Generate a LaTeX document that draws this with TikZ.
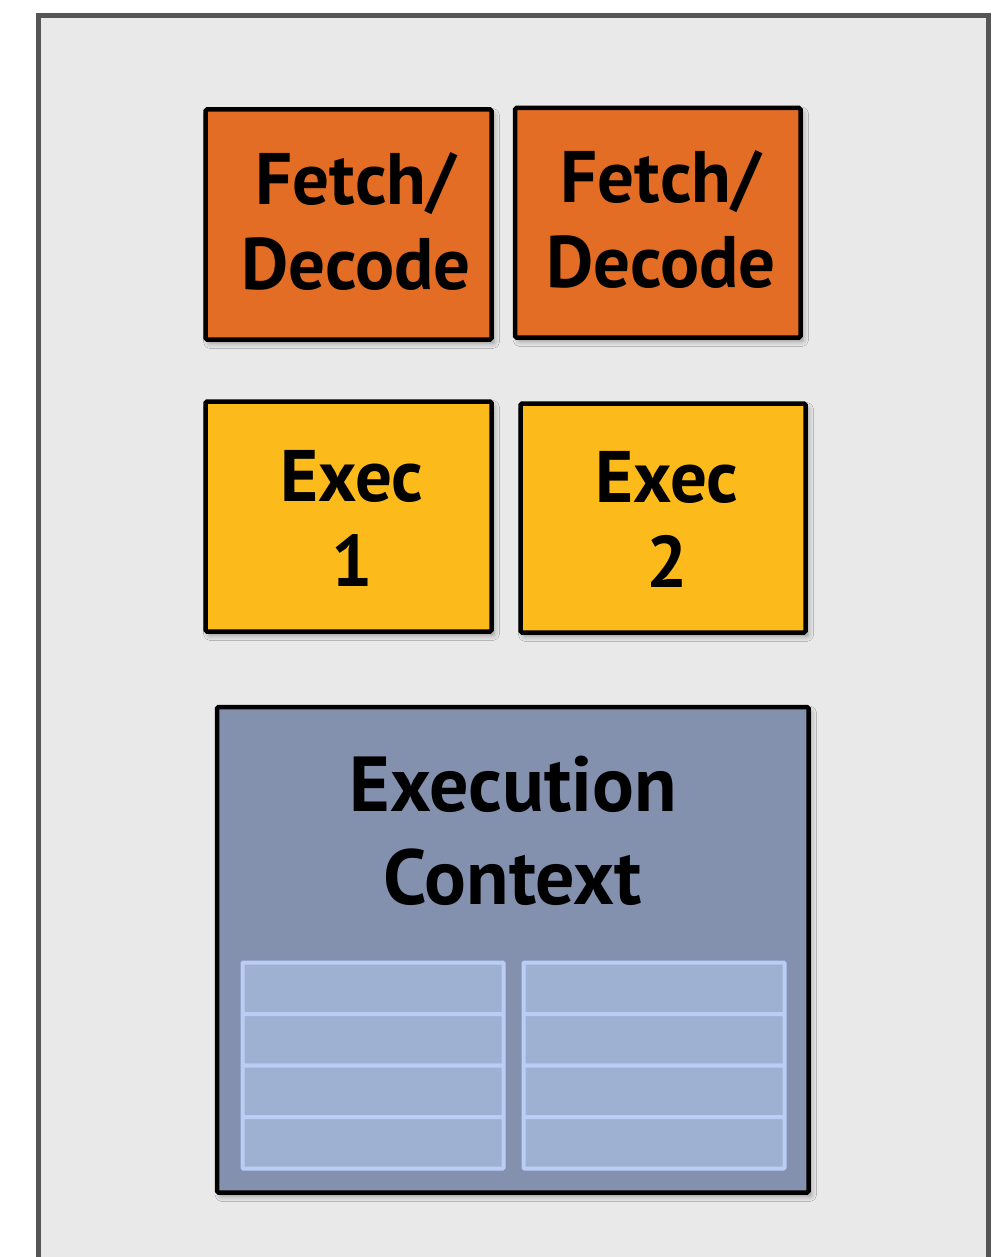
\documentclass[tikz,border=0pt]{standalone}
\usepackage{fontspec}
\setmainfont{PT Sans}
\usetikzlibrary{shadows.blur}
\definecolor{outerfill}{HTML}{E9E9E9}
\definecolor{outerdraw}{HTML}{555555}
\definecolor{fdorange}{HTML}{E46D25}
\definecolor{exyellow}{HTML}{FDBA1B}
\definecolor{ecfill}{HTML}{8391AF}
\definecolor{regfill}{HTML}{9FB1D3}
\definecolor{regdraw}{HTML}{BCCDF5}
\tikzset{
  unitbox/.style={draw=black, line width=4.5pt, rounded corners=1.5pt,
    blur shadow={shadow xshift=3pt, shadow yshift=-4pt, shadow blur radius=5pt, shadow opacity=35}},
  lbl/.style={align=center, font=\bfseries\fontsize{73}{85}\selectfont, inner sep=0pt},
  reg/.style={draw=regdraw, fill=regfill, line width=4pt, rounded corners=1pt}
}
\begin{document}
\begin{tikzpicture}[x=1pt,y=-1pt]
\useasboundingbox (0,0) rectangle (995,1257);
\clip (0,0) rectangle (995,1257);
\draw[outerdraw, fill=outerfill, line width=5pt] (38.5,15.5) rectangle (988.5,1290);
% fetch/decode
\draw[unitbox, fill=fdorange] (205.5,109.5) rectangle (491.5,339.5);
\draw[unitbox, fill=fdorange] (515,108) rectangle (800.5,337.5);
\node[lbl] (fd1) at (356,222) {Fetch/\\Decode};
\node[lbl] (fd2) at (661,220) {Fetch/\\Decode};
% exec
\draw[unitbox, fill=exyellow] (205.5,401.5) rectangle (491.5,631.5);
\draw[unitbox, fill=exyellow] (520.5,403.5) rectangle (805.5,632.5);
\node[lbl] (ex1) at (352,518) {Exec\\1};
\node[lbl] (ex2) at (667,519) {Exec\\2};
% execution context
\draw[unitbox, fill=ecfill] (217,707) rectangle (808.5,1192.5);
\node[lbl, font=\bfseries\fontsize{78}{93}\selectfont] (ec) at (513,831) {Execution\\Context};
\foreach \x in {242.5,523.5}{
  \foreach \i in {0,1,2,3}{
    \draw[reg] (\x,962.5+\i*51.5) rectangle ++(261,51.5);
  }
}
\end{tikzpicture}
\end{document}
